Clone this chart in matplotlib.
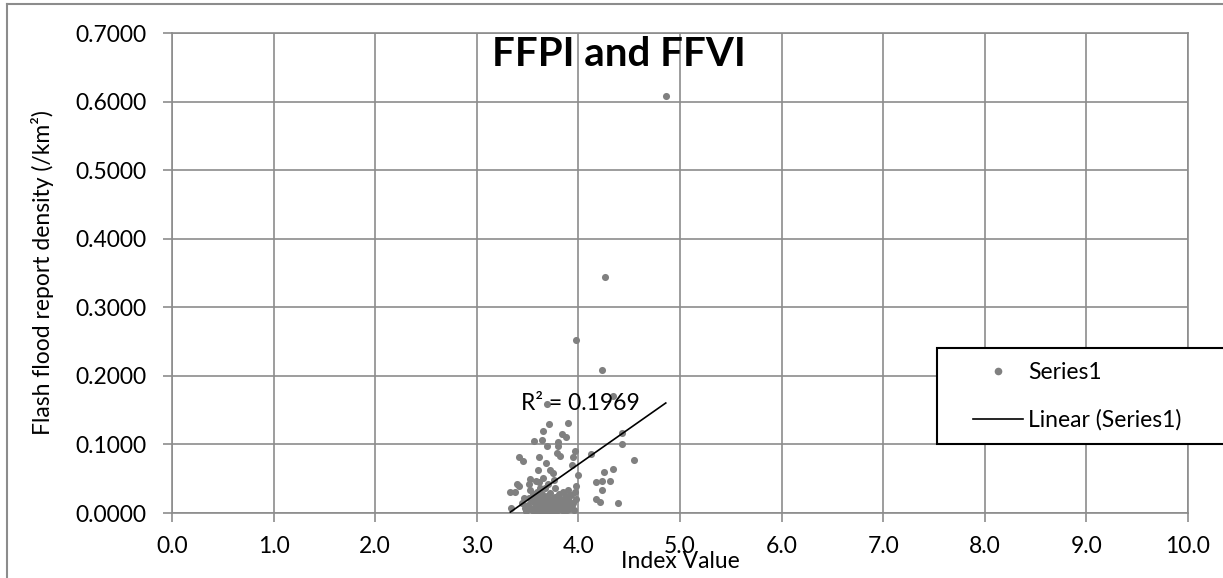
import matplotlib
matplotlib.use("Agg")
import matplotlib.pyplot as plt
from matplotlib.lines import Line2D
from matplotlib.patches import Rectangle

# index value (x) and flash flood report density (y)
index_value = [
    4.86, 4.26, 3.98, 4.23, 4.34, 3.69,
    3.71, 3.90, 3.65, 3.84, 3.88, 3.56, 3.64, 3.80, 3.80, 3.79, 3.69, 3.97,
    3.95, 3.82, 3.42, 3.45, 3.61, 4.43, 4.43, 4.12, 4.55,
    3.68, 3.94, 3.60, 3.72, 3.75, 4.00, 3.52, 3.65, 3.40, 3.42, 3.51, 3.61,
    4.34, 4.25, 4.17, 4.23, 4.31, 3.77, 3.98,
    3.33, 3.38, 3.52, 3.67, 3.85, 3.90, 3.98, 4.23, 4.17, 4.21, 4.39, 3.34,
    3.44, 3.47, 3.95, 3.87, 3.90,
    3.48, 3.50, 3.51, 3.53, 3.54, 3.55, 3.56, 3.57, 3.58, 3.59, 3.60, 3.60,
    3.61, 3.62, 3.63, 3.63, 3.64, 3.65, 3.66, 3.66, 3.67, 3.68, 3.68, 3.69,
    3.70, 3.71, 3.71, 3.72, 3.73, 3.74, 3.74, 3.75, 3.76, 3.77, 3.78, 3.79,
    3.80, 3.81, 3.82, 3.83, 3.84, 3.85, 3.86, 3.87, 3.88, 3.89, 3.91, 3.92,
    3.93, 3.94, 3.96, 3.97, 3.62, 3.70, 3.58, 3.46, 3.76,
]
report_density = [
    0.608, 0.344, 0.252, 0.208, 0.170, 0.159,
    0.130, 0.131, 0.119, 0.115, 0.111, 0.105, 0.106, 0.104, 0.097, 0.088, 0.097, 0.091,
    0.081, 0.083, 0.081, 0.076, 0.081, 0.116, 0.100, 0.086, 0.077,
    0.073, 0.070, 0.063, 0.063, 0.058, 0.056, 0.050, 0.051, 0.043, 0.040, 0.042, 0.045,
    0.064, 0.060, 0.045, 0.047, 0.047, 0.037, 0.040,
    0.030, 0.031, 0.034, 0.036, 0.031, 0.033, 0.020, 0.033, 0.021, 0.016, 0.014, 0.007,
    0.015, 0.008, 0.015, 0.020, 0.011,
    0.003, 0.012, 0.022, 0.006, 0.017, 0.027, 0.002, 0.010, 0.020, 0.031, 0.005, 0.014,
    0.024, 0.001, 0.009, 0.018, 0.028, 0.004, 0.013, 0.022, 0.007, 0.016, 0.001, 0.025,
    0.010, 0.019, 0.003, 0.029, 0.012, 0.006, 0.021, 0.015, 0.002, 0.024, 0.009, 0.017,
    0.004, 0.027, 0.012, 0.020, 0.006, 0.015, 0.002, 0.009, 0.025, 0.004, 0.018, 0.007,
    0.026, 0.012, 0.004, 0.030, 0.036, 0.042, 0.047, 0.022, 0.048,
]

# Excel linear trendline, as shown on the chart
trend_slope = 0.104
trend_intercept = -0.345
r_squared = 0.1969

x_ticks = [0, 1, 2, 3, 4, 5, 6, 7, 8, 9, 10]
y_ticks = [0.0, 0.1, 0.2, 0.3, 0.4, 0.5, 0.6, 0.7]

W, H = 1223, 578
GRID = "#8c8c8c"
DOT = "#808080"

plt.rcParams['font.family'] = ['Lato', 'DejaVu Sans']


def main():
    fig = plt.figure(figsize=(W / 100, H / 100), dpi=100)
    ax = fig.add_axes([172 / W, 1 - 513 / H, (1188 - 172) / W, (513 - 33) / H])

    ax.scatter(index_value, report_density, s=26, color=DOT, linewidths=0,
               zorder=3, label='Series1')

    x0, x1 = min(index_value), max(index_value)
    ax.plot([x0, x1], [trend_slope * x0 + trend_intercept, trend_slope * x1 + trend_intercept],
            color='black', lw=1.2, zorder=4, label='Linear (Series1)')

    ax.text(4.02, 0.159, f"R² = {r_squared:.4f}", fontsize=16.5, ha='center', va='center', zorder=5)

    ax.set_xlim(0, 10)
    ax.set_ylim(0, 0.7)
    ax.set_xticks(x_ticks)
    ax.set_yticks(y_ticks)
    ax.set_xticklabels([f"{t:.1f}" for t in x_ticks])
    ax.set_yticklabels([f"{t:.4f}" for t in y_ticks])
    ax.tick_params(labelsize=16.5, color=GRID, length=6.5, width=1.2, pad=10)
    ax.tick_params(axis='y', pad=12)
    ax.grid(True, color=GRID, lw=1.2)
    ax.set_axisbelow(True)
    for s in ax.spines.values():
        s.set_color(GRID)
        s.set_linewidth(1.2)

    ax.set_xlabel('Index Value', fontsize=16.5, va='center')
    ax.xaxis.set_label_coords(0.5, (513 - 561) / 480)
    ax.set_ylabel('Flash flood report density (/km²)', fontsize=16.5, va='center')
    ax.yaxis.set_label_coords((43 - 172) / (1188 - 172), 0.5)

    fig.text(619 / W, 1 - 55 / H, 'FFPI and FFVI', fontsize=29, fontweight='bold',
             ha='center', va='center')

    # legend box runs past the right edge of the picture
    fig.add_artist(Rectangle((937 / W, 1 - 444 / H), 400 / W, 96 / H, transform=fig.transFigure,
                             facecolor='white', edgecolor='black', lw=1.5, zorder=4))
    handles = [
        Line2D([], [], marker='o', ls='none', color=DOT, markersize=5.5, markeredgewidth=0),
        Line2D([], [], color='black', lw=1.2),
    ]
    leg = fig.legend(handles, ['Series1', 'Linear (Series1)'], fontsize=16.5,
                     loc='center left', bbox_to_anchor=(973 / W, 1 - 396.5 / H),
                     frameon=False, handlelength=2.2, handletextpad=0.2,
                     labelspacing=1.15, borderpad=0, borderaxespad=0)
    leg.set_zorder(5)

    # chart area border (left and top visible)
    fig.add_artist(Line2D([7 / W, 7 / W], [0, 1 - 4 / H], color=GRID, lw=1.5))
    fig.add_artist(Line2D([7 / W, 1], [1 - 4 / H, 1 - 4 / H], color=GRID, lw=1.5))

    fig.savefig('out.png', dpi=100)


if __name__ == "__main__":
    main()
